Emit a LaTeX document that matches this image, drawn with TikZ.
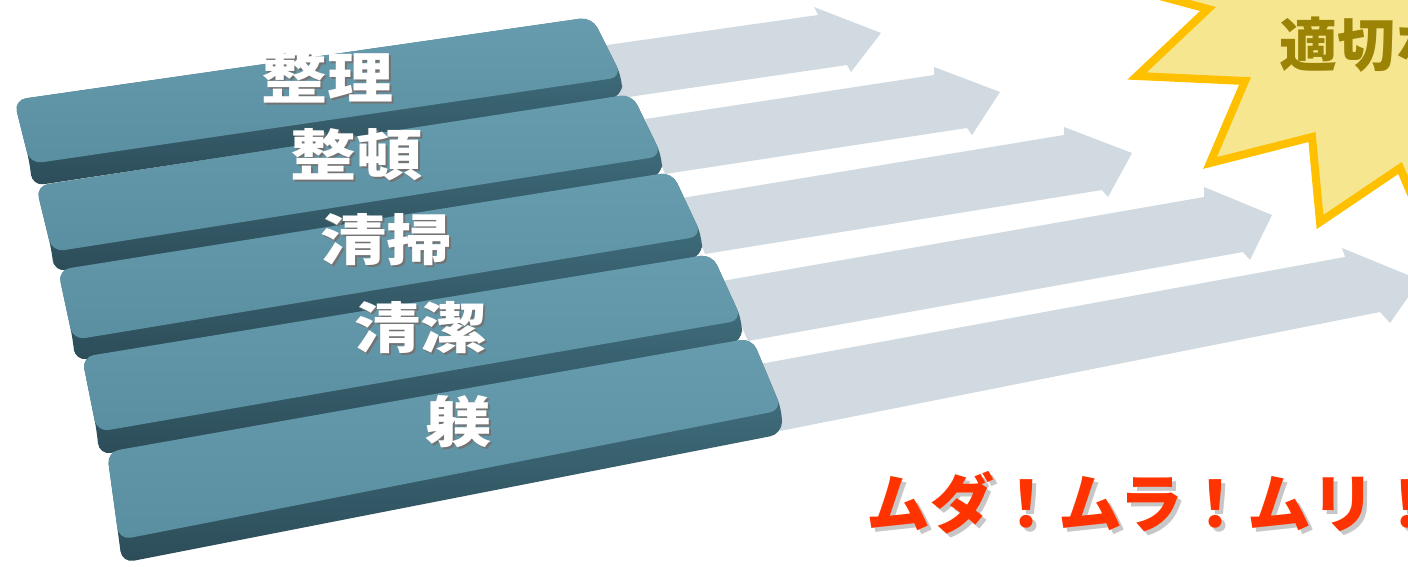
\documentclass[tikz,border=0pt]{standalone}
\usepackage{fontspec}
\newfontfamily\jp{Noto Sans CJK JP}
\definecolor{bartop}{HTML}{679CAE}
\definecolor{bartopd}{HTML}{5A8FA1}
\definecolor{barside}{HTML}{467888}
\definecolor{barbot}{HTML}{2C4C58}
\definecolor{arrowgray}{HTML}{D1DAE0}
\definecolor{starfill}{HTML}{F7E690}
\definecolor{starline}{HTML}{FFC000}
\definecolor{olive}{HTML}{9A8305}
\definecolor{redtext}{HTML}{FF3300}
\begin{document}
\begin{tikzpicture}[x=1pt,y=-1pt,
  arrowshape/.style={fill=arrowgray, draw=none},
  barsil/.style={top color=barside, bottom color=barbot, draw=none, rounded corners=12pt},
  barface/.style={top color=bartop, bottom color=bartopd, draw=none, rounded corners=12pt},
  lbl/.style={inner sep=0pt, text=white, font=\jp\bfseries\fontsize{55}{55}\selectfont},
  lblshadow/.style={inner sep=0pt, text=black!55, font=\jp\bfseries\fontsize{55}{55}\selectfont},
  startext/.style={inner sep=0pt, anchor=base west, text=olive, font=\jp\bfseries\fontsize{58}{58}\selectfont},
  redtxt/.style={inner sep=0pt, anchor=base west, text=redtext, font=\jp\bfseries\fontsize{64}{64}\selectfont},
  redshadow/.style={inner sep=0pt, anchor=base west, text=black, opacity=0.22, font=\jp\bfseries\fontsize{64}{64}\selectfont}
]
\useasboundingbox (0,0) rectangle (1408,566);
\clip (0,0) rectangle (1408,566);

% arrows
\fill[arrowshape] (600,46) -- (818,15) -- (814,7) -- (881,33) -- (851,72) -- (847,65) -- (615,99) -- cycle;
\fill[arrowshape] (645,119) -- (934,75) -- (934,67) -- (1000,92) -- (972,135) -- (967,128) -- (665,174) -- cycle;
\fill[arrowshape] (682,198) -- (1064,135) -- (1064,127) -- (1132,153) -- (1108,197) -- (1102,190) -- (705,254) -- cycle;
\fill[arrowshape] (722,281) -- (1204,197) -- (1204,187) -- (1272,215) -- (1250,260) -- (1243,252) -- (748,341) -- cycle;
\fill[arrowshape] (760,364) -- (1345,257) -- (1342,248) -- (1420,280) -- (1390,323) -- (1380,312) -- (780,431) -- cycle;

% bars
\path[barsil] (14,100) -- (592,17) -- (622,77) -- (622,97) -- (32,186) -- (30,164) -- cycle;
\path[barface] (14,100) -- (592,17) -- (622,77) -- (30,164) -- cycle;
\path[barsil] (36,186) -- (632,94) -- (662,156) -- (662,176) -- (54,272) -- (52,252) -- cycle;
\path[barface] (36,186) -- (632,94) -- (662,156) -- (52,252) -- cycle;
\path[barsil] (58,270) -- (672,172) -- (702,236) -- (702,257) -- (75,361) -- (73,340) -- cycle;
\path[barface] (58,270) -- (672,172) -- (702,236) -- (73,340) -- cycle;
\path[barsil] (82,357) -- (712,254) -- (742,320) -- (742,342) -- (99,455) -- (97,432) -- cycle;
\path[barface] (82,357) -- (712,254) -- (742,320) -- (97,432) -- cycle;
\path[barsil] (107,452) -- (752,338) -- (782,410) -- (782,434) -- (122,563) -- (119,540) -- cycle;
\path[barface] (107,452) -- (752,338) -- (782,410) -- (119,540) -- cycle;

% labels
\node[lblshadow] (l1s) at (329,79) {\scalebox{1.2}[1]{整理}};
\node[lbl] (l1) at (327,77) {\scalebox{1.2}[1]{整理}};
\node[lblshadow] (l2s) at (358,157) {\scalebox{1.2}[1]{整頓}};
\node[lbl] (l2) at (356,155) {\scalebox{1.2}[1]{整頓}};
\node[lblshadow] (l3s) at (388,242) {\scalebox{1.2}[1]{清掃}};
\node[lbl] (l3) at (386,240) {\scalebox{1.2}[1]{清掃}};
\node[lblshadow] (l4s) at (422,330) {\scalebox{1.2}[1]{清潔}};
\node[lbl] (l4) at (420,328) {\scalebox{1.2}[1]{清潔}};
\node[lblshadow] (l5s) at (460,424) {\scalebox{1.2}[1]{躾}};
\node[lbl] (l5) at (458,422) {\scalebox{1.2}[1]{躾}};

% starburst
\path[fill=starfill, draw=starline, line width=8pt, miter limit=10]
  (1100,-20) -- (1208,9) -- (1137,76) -- (1245,81) -- (1210,163) -- (1312,137)
  -- (1320,222) -- (1400,168) -- (1428,234) -- (1480,150) -- (1520,-40) -- (1250,-60) -- cycle;
\node[startext] (st) at (1279,66) {適切な};

% bottom text
\node[redshadow] (mus) at (870,531) {ムダ！ムラ！ムリ！};
\node[redtxt] (mu) at (866,527) {ムダ！ムラ！ムリ！};
\end{tikzpicture}
\end{document}
